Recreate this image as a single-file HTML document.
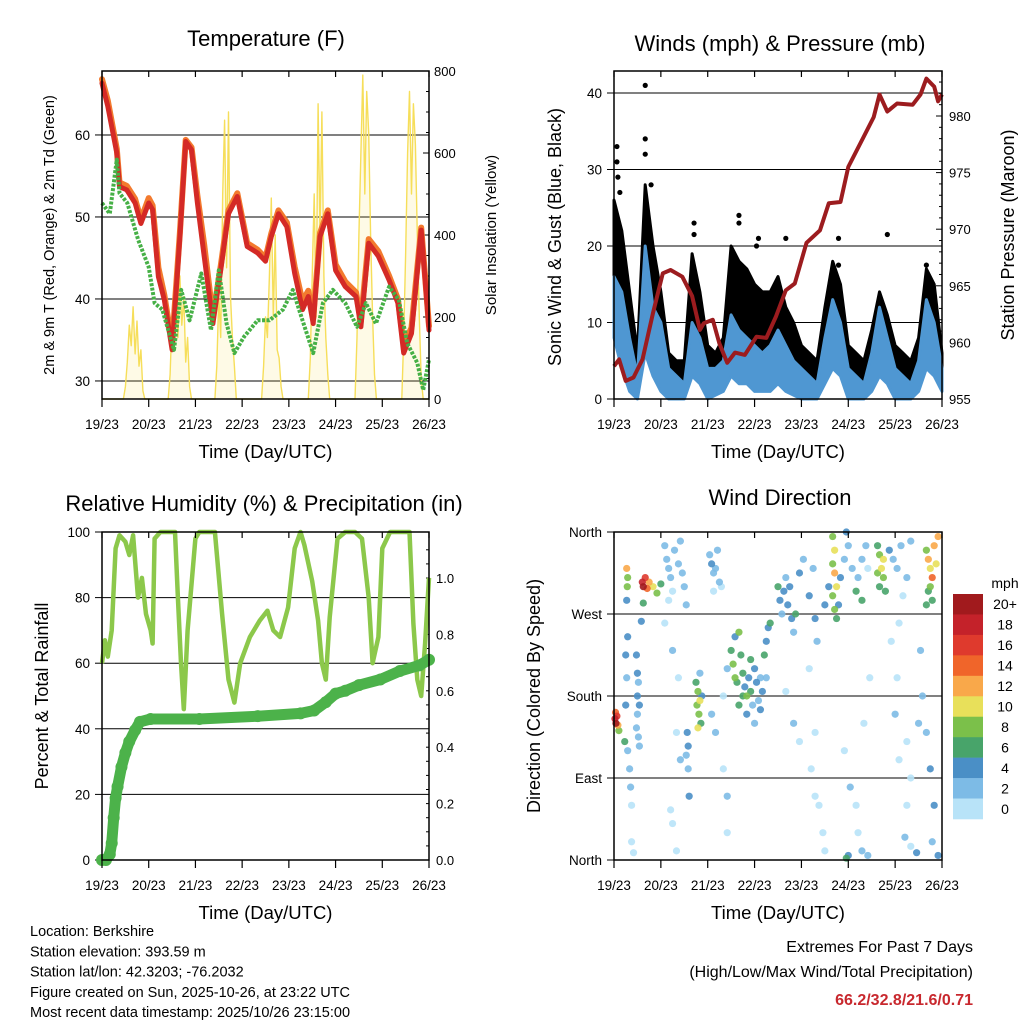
<!DOCTYPE html>
<html><head><meta charset="utf-8"><style>
body{margin:0;background:#fff;}
svg{display:block;font-family:"Liberation Sans",Arial,sans-serif;}
</style></head><body>
<svg id="chart" width="1024" height="1024" viewBox="0 0 1024 1024" xmlns="http://www.w3.org/2000/svg">
<rect width="1024" height="1024" fill="#fff"/>
<g id="g"></g>
</svg>
<script>
// ---------- Temperature data ----------
const tHours=[0,3,7.6,9,12.7,17,20,24,26,29,32,36,40,43,46,49,52.5,57,61,65,69.5,74.6,80,84,87,90.7,95,99,103,106,108.5,112,116,120,125,130.5,133,137,142,147.5,152,155,159,164,168];
const t2m=[66.3,63.5,57.8,53.7,53.3,51.7,49.2,51.7,50.9,42.7,39.9,33.8,47.6,59.2,58.2,51.7,45.2,37.0,43.5,50.4,52.5,46.4,45.6,44.6,47.6,50.4,48.8,43.1,38.7,40.3,37.0,47.6,50.4,43.5,41.5,40.3,36.6,46.8,45.2,42.3,39.5,33.4,35.8,48.4,36.2];
const t9m=[66.8,64.2,58.3,54.2,53.8,52.2,49.7,52.3,51.4,43.8,40.5,34.5,48.1,59.4,58.5,52.6,46.6,37.8,44.0,50.8,52.9,46.8,46.0,45.0,48.0,50.8,49.3,43.9,39.7,41.0,37.6,48.0,50.8,44.2,42.1,40.8,37.3,47.3,45.8,42.8,40.0,34.4,36.5,48.7,36.7];
const tdHours=[0,4,7.6,9,13,18.6,24,27,31,37,40.7,45,51,56,60,64,68,73,80,86,93,98,103,108.5,113.5,118.6,125,131,135.6,140.7,147.5,152.5,156.8,162,165,168];
const td2m=[51.7,50.4,57.0,52.9,51.7,47.2,43.9,39.5,38.7,33.8,41.1,37.4,43.1,36.2,43.5,37.0,33.4,35.4,37.4,37.4,38.7,41.1,37.4,33.4,39.5,41.1,39.5,36.6,39.5,37.0,41.5,39.9,34.6,32.2,28.9,32.6];
const solarHours=[0,11,12,13,14,15,16,17,18,19,20,21,22,34,35,36,37,38,39,40,41,42,43,44,45,46,58,59,60,61,62,63,64,65,66,67,68,69,82,83,84,85,86,87,88,89,90,91,92,93,106,107,108,109,110,111,112,113,114,115,116,117,130,131,132,133,134,135,136,137,138,139,140,141,154,155,156,157,158,159,160,161,162,163,164,165,168];
const solarVals=[0,0,30,90,180,130,225,110,190,80,120,20,0,0,60,200,120,280,150,300,180,250,90,150,30,0,0,80,250,150,500,680,320,700,250,150,80,0,0,80,200,150,300,490,200,400,120,100,30,0,0,100,300,500,200,720,400,700,300,150,60,0,0,150,400,600,790,500,750,650,400,200,60,0,0,150,350,600,750,500,720,620,400,200,50,0,0];
const tLeftTicks=[30,40,50,60];
const tRightTicks=[0,200,400,600,800];
const dayLabels=["19/23","20/23","21/23","22/23","23/23","24/23","25/23","26/23"];

// ---------- Wind / pressure data ----------
const windHours=[0,4,8,12,16,20,24,28,32,36,40,44,48,52,56,60,64,68,72,76,80,84,88,92,96,100,104,108,112,116,120,124,128,132,136,140,144,148,152,156,160,164,168];
const windHi=[16,14,8,3,20,12,10,4,3,2,10,8,4,4,5,11,9,8,7,6,7,9,7,5,4,3,2,8,13,10,4,3,2,6,12,8,4,3,2,5,13,10,4];
const windLo=[8,4,1,0,6,3,1,0,0,0,3,2,0,0.5,1,3,2,2,1,1,1,2,1,0.5,0,0,0,2,4,3,0,0,0,1,3,2,0,0,0,1,4,3,1];
const gustHi=[26,22,14,6,28,20,14,6,5,5,19,14,7,6,8,20,18,17,15,14,14,16,12,10,7,6,5,12,18,15,7,6,5,9,14,11,7,6,5,8,17,15,6];
const gustOutH=[1.5,1.5,2,16,16,16,19,3,41,41,64,64,73,74,88,115,115,140,160,161];
const gustOutV=[33,31,29,41,34,32,28,27,21.5,23,24,23,20,21,21,17.5,21,21.5,17.5,14];
const presHours=[0,2.6,6,10,14.6,20,25,29,35,40,44,46,50.6,54,58,62,67,73,78,83,88,92.6,98.6,105.5,110,116,120,128,133,136,140,145,153,157,160,164,166,168];
const presVals=[957.9,958.5,956.6,956.9,958.5,962.6,966.1,966.4,965.8,964.1,961.1,961.7,962.0,959.9,958.2,959.1,958.9,960.5,960.4,962.3,964.6,965.2,968.8,969.9,972.3,972.4,975.5,978.2,979.9,981.9,980.4,981.1,981.0,981.9,983.3,982.6,981.3,981.9];
const wLeftTicks=[0,10,20,30,40];
const wRightTicks=[955,960,965,970,975,980];

// ---------- RH / precipitation data ----------
const rhHours=[0,1.5,3,5,7,9,12,14,16,18.5,20.5,22.6,25,26,27,30,37.5,39,40.6,42,44,48,50,58,61.7,65,68,71,76,81,85,88,91.5,95.6,99,102,104,108,111,113,115,117,121,125,130,133.6,137,139,142,144,148,158,160,162,164,166,168];
const rhVals=[60,67,62,70,95,99,97,93,99,80,86,75,70,66,98,100,100,80,60,46,70,98,100,100,75,55,48,60,68,73,76,70,68,77,95,100,96,85,73,60,55,74,98,100,100,98,80,60,68,95,100,100,72,55,50,66,86];
const prHours=[0,2,4,5,6,7,8,10,12,14,17,19.5,25,50,80,102,109,115,120,125,132,143,153,163,168];
const prVals=[0,0,0.02,0.06,0.15,0.22,0.26,0.33,0.38,0.42,0.46,0.49,0.5,0.5,0.51,0.52,0.53,0.56,0.59,0.6,0.62,0.64,0.67,0.69,0.71];
const rhTicks=[0,20,40,60,80,100];
const prTicks=[0.0,0.2,0.4,0.6,0.8,1.0];

// ---------- Wind direction data ----------
const dirHours=[0.5,1,1.5,2,0.8,2.5,5.5,6.5,7,6.8,6.5,7,6,6.5,6,7,8,8.5,9,9,10,14.5,15,16,17,18,20,22,24,15,14,11.5,12,12.5,12,13,12,11.5,12.5,13,26,27,28,29,31,33,35,36,37,34,30,28,26,30,33,32,34,29,30,32,42,43,44,42.5,43.5,44.5,43,45,44,37.5,38,37,38,38.5,49,50,51,52,53,54,55,51,50,52,56,58,56,58,58,60,61,62,63,62,64,65,66,67,68,69,70,71,72,73,74,75,76,77,78,78,79,80,75,70,66,64,68,72,84,85,86,87,88,89,90,91,92,93,95,97,100,102,103,104,88,92,95,100,103,101,103,105,107,108,112,113,112,113,114,112,113,114,115,116,118,120,122,124,125,127,129,130,119,110,108,127,118,121,124,125,127,130,120,119,128,131,135,136,137,138,136,139,138,135,141,143,145,147,150,152,148,146,142,145,144,150,152,150,149,152,155,146,161,162,163,162,161,163,164,160,165,166,160,158,160,162,164,163,166,157,156];
const dirDeg=[155,150,158,148,162,142,130,320,310,300,285,245,225,200,170,120,100,80,60,20,8,305,300,310,298,305,300,293,303,282,262,225,205,195,180,170,160,145,135,125,345,330,320,310,340,325,315,300,280,350,295,285,260,230,200,140,110,55,40,10,195,185,175,170,160,150,145,180,205,140,125,115,100,70,335,325,315,320,340,305,300,295,160,140,180,210,100,70,30,230,215,200,195,245,250,225,205,190,180,200,185,170,210,195,175,165,185,225,240,200,255,260,200,220,180,170,160,150,300,285,270,295,310,280,300,265,250,270,315,330,290,320,265,240,185,150,130,210,140,100,70,60,30,10,355,340,325,315,300,290,275,265,280,310,330,345,320,295,310,330,345,320,360,300,280,285,120,80,60,30,10,5,5,2,150,200,345,335,320,310,300,295,330,315,340,330,320,345,310,350,290,260,240,200,160,130,90,60,25,15,8,110,330,320,310,300,295,285,345,340,325,355,280,180,140,100,60,20,5,230,150];
const dirSpeed=[18,20,16,12,14,9,7,12,9,8,5,4,4,3,4,2,2,2,1,1,1,18,20,16,14,12,10,8,7,6,4,4,4,3,4,4,3,3,2,2,2,2,3,2,2,2,3,2,2,2,1,1,1,2,1,1,2,1,1,1,7,8,10,9,8,6,10,4,3,4,4,3,3,4,3,4,3,2,2,2,1,1,3,2,1,2,1,2,1,6,8,9,7,5,8,6,7,5,8,4,6,3,5,4,3,4,5,6,4,3,5,6,2,6,6,7,4,3,6,4,3,4,3,5,4,4,3,6,5,2,4,3,5,3,1,2,1,1,1,1,1,1,1,1,9,10,8,12,10,8,9,7,5,4,3,2,3,7,2,2,2,1,4,4,4,6,1,2,1,1,2,3,4,6,1,1,7,8,10,9,7,6,10,8,4,3,2,2,3,2,1,1,1,1,2,1,1,1,2,1,4,1,12,10,14,8,6,6,12,8,10,13,6,2,3,4,4,3,5,3,2];
const cbLabels=["20+","18","16","14","12","10","8","6","4","2","0"];
const cbColors=["#a11a1d","#c4222a","#df3a2d","#f0652a","#f9a84a","#e8e05a","#7bc04a","#48a46a","#4a8fc6","#7dbbe6","#b8e3f8"];
const dirTicks=[0,90,180,270,360];
const dirTickLabels=["North","East","South","West","North"];

const NS="http://www.w3.org/2000/svg";
const G=document.getElementById('g');
function mk(tag,attrs,parent){const e=document.createElementNS(NS,tag);for(const k in attrs)e.setAttribute(k,attrs[k]);(parent||G).appendChild(e);return e;}
function txt(s,x,y,size,anchor,parent,extra){const e=mk('text',Object.assign({x:x,y:y,'font-size':size,'text-anchor':anchor||'middle',fill:'#000'},extra||{}),parent);e.textContent=s;return e;}
function rtxt(s,x,y,size,parent){const e=mk('text',{x:0,y:0,'font-size':size,'text-anchor':'middle',transform:`translate(${x},${y}) rotate(-90)`,fill:'#000'},parent);e.textContent=s;return e;}
function pts(xs,ys,fx,fy){return xs.map((h,i)=>fx(h).toFixed(1)+','+fy(ys[i]).toFixed(1)).join(' ');}

function frame(P,name){
  const g=mk('g',{});
  
  
  return g;
}
function xAxis(g,P,yb){
  const fx=h=>P.x0+h*(P.x1-P.x0)/168;
  dayLabels.forEach((d,i)=>{
    const x=fx(i*24);
    mk('line',{x1:x,y1:yb,x2:x,y2:yb+8,stroke:'#000','stroke-width':1.2},g);
    mk('line',{x1:x,y1:P.y0,x2:x,y2:P.y0+6,stroke:'#000','stroke-width':1.2},g);
    const t=txt(d,x,yb+30,13.5,'middle',g);
    
    
  });
  const xt=txt('Time (Day/UTC)',(P.x0+P.x1)/2,yb+59,18.5,'middle',g);
  
  
}

// ===== Panel 1: Temperature =====
(function(){
  const P={x0:102,x1:429,y0:71,y1:399};
  const g=frame(P,'temperature-panel');
  const fx=h=>P.x0+h*(P.x1-P.x0)/168;
  const fy=T=>P.y1-(T-27.8)*8.2;
  const fr=s=>P.y1-s*0.41;
  tLeftTicks.forEach(v=>{
    const y=fy(v);
    mk('line',{x1:P.x0,y1:y,x2:P.x1,y2:y,stroke:'#000','stroke-width':1},g);
    mk('line',{x1:P.x0-7,y1:y,x2:P.x0,y2:y,stroke:'#000'},g);
    txt(String(v),P.x0-12,y+5,13.5,'end',g);
  });
  for(let v=0;v<=800;v+=50){const y=fr(v);mk('line',{x1:P.x1,y1:y,x2:P.x1-(v%200?3:6),y2:y,stroke:'#000'},g);}
  tRightTicks.forEach(v=>{txt(String(v),P.x1+5,fr(v)+5,13,'start',g);});
  const sol=mk('polyline',{points:pts(solarHours,solarVals,fx,fr),fill:'rgba(248,224,90,0.15)',stroke:'#f6de5a','stroke-width':1.4,'stroke-linejoin':'round'},g);
  
  
  const o=mk('polyline',{points:pts(tHours,t9m,fx,fy),fill:'none',stroke:'#f37a2e','stroke-width':6,'stroke-linejoin':'round','stroke-linecap':'round'},g);
  
  
  const r=mk('polyline',{points:pts(tHours,t2m,fx,fy),fill:'none',stroke:'#d42a26','stroke-width':5,'stroke-linejoin':'round','stroke-linecap':'round'},g);
  
  
  const gr=mk('polyline',{points:pts(tdHours,td2m,fx,fy),fill:'none',stroke:'#46b046','stroke-width':4,'stroke-dasharray':'3 1.5','stroke-linejoin':'round'},g);
  
  
  mk('rect',{x:P.x0,y:P.y0,width:P.x1-P.x0,height:P.y1-P.y0,fill:'none',stroke:'#000','stroke-width':1.5},g);
  xAxis(g,P,P.y1);
  const t=txt('Temperature (F)',266,46,22,'middle',g);
  
  
  rtxt('2m & 9m T (Red, Orange) & 2m Td (Green)',54,235,14.5,g);
  rtxt('Solar Insolation (Yellow)',496,235,15,g);
})();

// ===== Panel 2: Winds & Pressure =====
(function(){
  const P={x0:614,x1:942,y0:71,y1:399};
  const g=frame(P,'winds-pressure-panel');
  const fx=h=>P.x0+h*(P.x1-P.x0)/168;
  const fy=w=>P.y1-w*7.65;
  const fr=p=>P.y1-(p-955)*11.32;
  wLeftTicks.forEach(v=>{
    const y=fy(v);
    if(v>0)mk('line',{x1:P.x0,y1:y,x2:P.x1,y2:y,stroke:'#000','stroke-width':1},g);
    mk('line',{x1:P.x0-7,y1:y,x2:P.x0,y2:y,stroke:'#000'},g);
    txt(String(v),P.x0-12,y+5,13.5,'end',g);
  });
  for(let p=955;p<=983;p++){const y=fr(p);mk('line',{x1:P.x1,y1:y,x2:P.x1-(p%5?3:6),y2:y,stroke:'#000'},g);}
  wRightTicks.forEach(v=>{txt(String(v),P.x1+7,fr(v)+5,13,'start',g);});
  const gp=pts(windHours,gustHi,fx,fy)+' '+pts(windHours.slice().reverse(),windHi.slice().reverse(),fx,fy);
  const gb=mk('polygon',{points:gp,fill:'#000',stroke:'#000','stroke-width':3,'stroke-linejoin':'round'},g);
  
  
  gustOutH.forEach((h,i)=>{
    const c=mk('circle',{cx:fx(h),cy:fy(gustOutV[i]),r:2.6,fill:'#000'},g);
    
    
  });
  const bp=pts(windHours,windHi,fx,fy)+' '+pts(windHours.slice().reverse(),windLo.slice().reverse(),fx,fy);
  const bb=mk('polygon',{points:bp,fill:'#4f97d2',stroke:'#4f97d2','stroke-width':3,'stroke-linejoin':'round'},g);
  
  
  const pr=mk('polyline',{points:pts(presHours,presVals,fx,fr),fill:'none',stroke:'#9c1c1f','stroke-width':4,'stroke-linejoin':'round'},g);
  
  
  mk('rect',{x:P.x0,y:P.y0,width:P.x1-P.x0,height:P.y1-P.y0,fill:'none',stroke:'#000','stroke-width':1.5},g);
  xAxis(g,P,P.y1);
  const t=txt('Winds (mph) & Pressure (mb)',780,51,22,'middle',g);
  
  
  rtxt('Sonic Wind & Gust (Blue, Black)',561,237,18,g);
  rtxt('Station Pressure (Maroon)',1014,235,18,g);
})();

// ===== Panel 3: RH & precip =====
(function(){
  const P={x0:102,x1:429,y0:532,y1:860};
  const g=frame(P,'humidity-precip-panel');
  const fx=h=>P.x0+h*(P.x1-P.x0)/168;
  const fy=v=>P.y1-v*3.28;
  const fr=p=>P.y1-p*282;
  rhTicks.forEach(v=>{
    const y=fy(v);
    if(v>0&&v<100)mk('line',{x1:P.x0,y1:y,x2:P.x1,y2:y,stroke:'#000','stroke-width':1},g);
    mk('line',{x1:P.x0-7,y1:y,x2:P.x0,y2:y,stroke:'#000'},g);
    txt(String(v),P.x0-12,y+5,13.5,'end',g);
  });
  for(let p=0;p<=1.15;p+=0.05){const y=fr(p);mk('line',{x1:P.x1,y1:y,x2:P.x1-3,y2:y,stroke:'#000'},g);}
  prTicks.forEach(v=>{txt(v.toFixed(1),P.x1+7,fr(v)+5,13,'start',g);});
  const rl=mk('polyline',{points:pts(rhHours,rhVals,fx,fy),fill:'none',stroke:'#8cc84b','stroke-width':4.5,'stroke-linejoin':'round'},g);
  
  
  const pl=mk('polyline',{points:pts(prHours,prVals,fx,fr),fill:'none',stroke:'#4cb24a','stroke-width':11,'stroke-linejoin':'round','stroke-linecap':'round'},g);
  
  
  prHours.forEach((h,i)=>{
    const c=mk('circle',{cx:fx(h),cy:fr(prVals[i]),r:6,fill:'#4cb24a'},g);
    
    
  });
  mk('rect',{x:P.x0,y:P.y0,width:P.x1-P.x0,height:P.y1-P.y0,fill:'none',stroke:'#000','stroke-width':1.5},g);
  xAxis(g,P,P.y1);
  const t=txt('Relative Humidity (%) & Precipitation (in)',264,511,22,'middle',g);
  
  
  rtxt('Percent & Total Rainfall',48,696,18,g);
})();

// ===== Panel 4: Wind direction =====
(function(){
  const P={x0:614,x1:942,y0:532,y1:860};
  const g=frame(P,'wind-direction-panel');
  const fx=h=>P.x0+h*(P.x1-P.x0)/168;
  const fy=d=>P.y1-d*(P.y1-P.y0)/360;
  function col(s){let i=Math.min(10,Math.floor(s/2));return cbColors[10-i];}
  dirTicks.forEach((v,i)=>{
    const y=fy(v);
    if(v>0&&v<360)mk('line',{x1:P.x0,y1:y,x2:P.x1,y2:y,stroke:'#000','stroke-width':1},g);
    mk('line',{x1:P.x0-7,y1:y,x2:P.x0,y2:y,stroke:'#000'},g);
    txt(dirTickLabels[i],P.x0-12,y+5,13.5,'end',g);
  });
  const order=dirSpeed.map((s,i)=>i).sort((a,b)=>dirSpeed[a]-dirSpeed[b]);
  order.forEach(i=>{
    const c=mk('circle',{cx:fx(dirHours[i]),cy:fy(dirDeg[i]),r:3.6,fill:col(dirSpeed[i]),'fill-opacity':0.9},g);
    
    
  });
  mk('rect',{x:P.x0,y:P.y0,width:P.x1-P.x0,height:P.y1-P.y0,fill:'none',stroke:'#000','stroke-width':1.5},g);
  xAxis(g,P,P.y1);
  const t=txt('Wind Direction',780,505,22,'middle',g);
  
  
  rtxt('Direction (Colored By Speed)',540,696,18,g);
  const cb=mk('g',{},G);
  
  
  txt('mph',1005,588,14,'middle',cb);
  const bh=(819-594)/11;
  cbColors.forEach((c,i)=>{
    mk('rect',{x:953,y:594+i*bh,width:30,height:bh+0.3,fill:c},cb);
    txt(cbLabels[i],1005,594+i*bh+bh/2+5,14,'middle',cb);
  });
})();

// ===== footer text =====
const info=["Location: Berkshire","Station elevation: 393.59 m","Station lat/lon: 42.3203; -76.2032","Figure created on Sun, 2025-10-26, at 23:22 UTC","Most recent data timestamp: 2025/10/26 23:15:00"];
const ig=mk('g',{});


info.forEach((s,i)=>txt(s,30,936+i*20.3,14.5,'start',ig));
const eg=mk('g',{});


txt('Extremes For Past 7 Days',973,952,16,'end',eg);
txt('(High/Low/Max Wind/Total Precipitation)',973,977,16,'end',eg);
txt('66.2/32.8/21.6/0.71',973,1005,16,'end',eg,{fill:'#c8282e','font-weight':'bold'});
</script>
</body></html>
